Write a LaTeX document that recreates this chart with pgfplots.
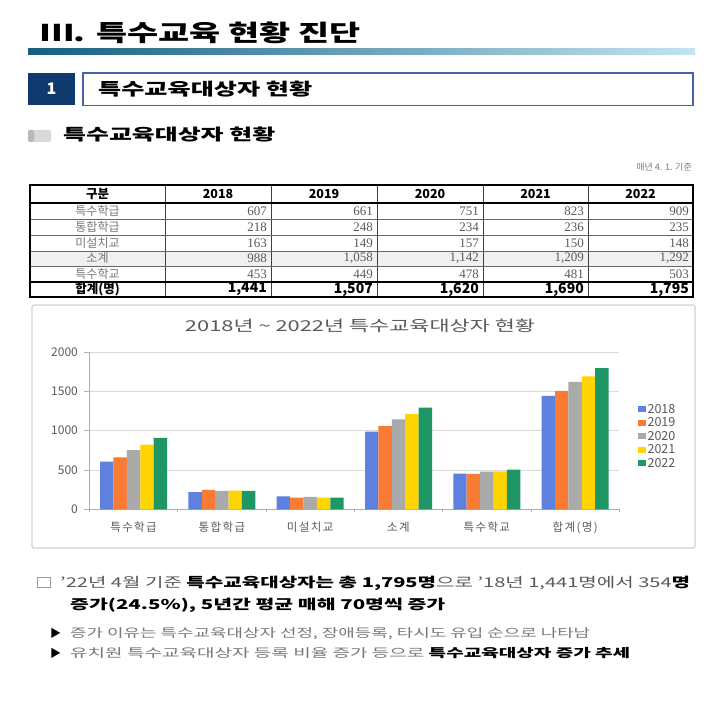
\documentclass[border=0pt]{standalone}
\usepackage{graphicx}
\usepackage{pgfplots}
\pgfplotsset{compat=1.18}
\usepackage{fontspec}
\setmainfont{Noto Sans CJK KR}
\newfontfamily\serif{Liberation Serif}
\newfontfamily\krwide[LetterSpace=12]{Noto Sans CJK KR}
\definecolor{cA}{RGB}{94,128,222}
\definecolor{cB}{RGB}{250,124,52}
\definecolor{cC}{RGB}{170,170,170}
\definecolor{cD}{RGB}{255,212,0}
\definecolor{cE}{RGB}{30,150,102}
\definecolor{navy}{RGB}{14,58,110}
\definecolor{boxblue}{RGB}{70,100,165}
\definecolor{txtgray}{RGB}{90,90,90}
\definecolor{lgray}{RGB}{120,120,120}
\newcommand\fs[1]{\fontsize{#1}{#1}\selectfont}
\newcommand\fw[2]{\resizebox{#1pt}{\height}{#2}}
\begin{document}
\begin{tikzpicture}[x=1pt,y=1pt]
\useasboundingbox (0,0) rectangle (710,710);
\fill[white] (0,0) rectangle (710,710);
% ---- title
\node[anchor=base west, inner sep=0] at (40,668) {\fw{320}{\fs{23}\bfseries Ⅲ. 특수교육 현황 진단}};
\shade[left color={rgb,255:red,20;green,95;blue,125}, middle color={rgb,255:red,70;green,150;blue,180}, right color={rgb,255:red,195;green,228;blue,242}] (28,655) rectangle (695,661);
% ---- section box
\fill[navy] (28,605) rectangle (75,637);
\node[text=white, inner sep=0] at (51.5,621) {\fs{16}\bfseries 1};
\draw[boxblue, line width=1.2pt] (83,604.5) rectangle (693,637);
\node[anchor=base west, inner sep=0] at (98,614) {\fw{214}{\fs{17}\bfseries 특수교육대상자 현황}};
% ---- heading
\fill[gray!30, rounded corners=2pt] (28,568) rectangle (51,580);
\fill[gray!55, rounded corners=1.5pt] (28,568) rectangle (34,580);
\node[anchor=base west, inner sep=0] at (63,569) {\fw{212}{\fs{16}\bfseries 특수교육대상자 현황}};
\node[anchor=base east, inner sep=0, text=lgray] at (692,539) {\fs{9}매년 4. 1. 기준};
% ---- table
\fill[gray!12] (30,444) rectangle (693,459);
\foreach \xx in {165,271,377,483,588} \draw[black!75, line width=0.8pt] (\xx,413) -- (\xx,525);
\foreach \yy in {491,475,459,444} \draw[black!60, line width=0.7pt] (30,\yy) -- (693,\yy);
\draw[black, line width=1.5pt] (30,507) -- (693,507);
\draw[black, line width=1.5pt] (30,428) -- (693,428);
\draw[black, line width=1.6pt] (30,413) rectangle (693,525);
\node[inner sep=0] at (97.5,516) {\fs{12.5}\bfseries 구분};
\foreach \xx/\yr in {218/2018,324/2019,430/2020,535.5/2021,640.5/2022}
  \node[inner sep=0] at (\xx,516) {\fs{12.5}\bfseries \yr};
\foreach \yy/\lab/\a/\b/\c/\d/\e in {
  499/특수학급/607/661/751/823/909,
  483/통합학급/218/248/234/236/235,
  467/미설치교/163/149/157/150/148,
  451.5/소계/988/{1,058}/{1,142}/{1,209}/{1,292},
  436/특수학교/453/449/478/481/503}{
  \node[inner sep=0, text=lgray] at (97.5,\yy) {\fs{12}\lab};
  \node[inner sep=0, anchor=east, text=txtgray] at (267,\yy) {\serif\fs{13}\a};
  \node[inner sep=0, anchor=east, text=txtgray] at (373,\yy) {\serif\fs{13}\b};
  \node[inner sep=0, anchor=east, text=txtgray] at (479,\yy) {\serif\fs{13}\c};
  \node[inner sep=0, anchor=east, text=txtgray] at (584,\yy) {\serif\fs{13}\d};
  \node[inner sep=0, anchor=east, text=txtgray] at (689,\yy) {\serif\fs{13}\e};
}
\node[inner sep=0] at (97.5,420.5) {\fs{12.5}\bfseries 합계(명)};
\foreach \xx/\v in {267/{1,441},373/{1,507},479/{1,620},584/{1,690},689/{1,795}}
  \node[inner sep=0, anchor=east] at (\xx,420.5) {\fs{14}\bfseries \v};
% ---- chart frame
\draw[gray!35, line width=1.2pt, rounded corners=2pt] (32,162) rectangle (695,405);
\node[inner sep=0, text=txtgray] at (360,384) {\fw{350}{\fs{15}2018년 \textasciitilde\ 2022년 특수교육대상자 현황}};
\begin{axis}[
  at={(89.4pt,200.7pt)}, anchor=south west,
  scale only axis, width=529.9pt, height=157.3pt,
  xmin=-0.5, xmax=5.5, ymin=0, ymax=2000,
  ybar=0pt, bar width=13.4pt,
  xtick={0,...,5},
  xticklabels={특수학급,통합학급,미설치교,소계,특수학교,합계(명)},
  major x tick style={draw=none},
  minor xtick={-0.5,0.5,...,5.5},
  minor x tick style={draw=gray!60, line width=0.6pt},
  ytick={0,500,...,2000},
  y tick style={draw=gray!60, line width=0.6pt},
  ymajorgrids, grid style={draw=gray!28, line width=0.8pt},
  axis x line*=bottom, axis y line*=left,
  axis line style={draw=gray!65, line width=0.8pt, -},
  tick align=outside,
  major tick length=5pt, minor tick length=3pt,
  /pgf/number format/assume math mode=true,
  /pgf/number format/set thousands separator={},
  yticklabel style={font=\fs{12}, text=txtgray, xshift=-3pt},
  xticklabel style={font=\krwide\fs{11.5}, text=txtgray, yshift=-4pt},
  legend style={at={(1.03,0.463)}, anchor=west, draw=none, fill=none,
    font=\fs{12.5}, text=txtgray, row sep=0.5pt,
    nodes={inner sep=1.2pt}},
  legend image code/.code={\fill[#1, draw=none] (0pt,-2.8pt) rectangle (8pt,3.2pt);},
  clip=false,
]
\addplot[fill=cA, draw=none] coordinates {(0,607) (1,218) (2,163) (3,988) (4,453) (5,1441)};
\addplot[fill=cB, draw=none] coordinates {(0,661) (1,248) (2,149) (3,1058) (4,449) (5,1507)};
\addplot[fill=cC, draw=none] coordinates {(0,751) (1,234) (2,157) (3,1142) (4,478) (5,1620)};
\addplot[fill=cD, draw=none] coordinates {(0,823) (1,236) (2,150) (3,1209) (4,481) (5,1690)};
\addplot[fill=cE, draw=none] coordinates {(0,909) (1,235) (2,148) (3,1292) (4,503) (5,1795)};
\legend{2018,2019,2020,2021,2022}
\end{axis}
% ---- bullet text
\draw[gray!80, line width=0.9pt] (37,123) rectangle (50,133);
\node[anchor=base west, inner sep=0] at (60,122.5) {\fw{630}{\fs{13.5}\color{txtgray}’22년 4월 기준 \color{black}\bfseries 특수교육대상자는 총 1,795명\mdseries\color{txtgray}으로 ’18년 1,441명에서 354\color{black}\bfseries 명}};
\node[anchor=base west, inner sep=0] at (70,100) {\fw{375}{\fs{13.5}\bfseries 증가(24.5\%), 5년간 평균 매해 70명씩 증가}};
\node[anchor=base west, inner sep=0] at (50,72.5) {\fs{11}▶};
\node[anchor=base west, inner sep=0] at (70,72.5) {\fw{520}{\fs{12}\color{lgray}증가 이유는 특수교육대상자 선정, 장애등록, 타시도 유입 순으로 나타남}};
\node[anchor=base west, inner sep=0] at (50,52.5) {\fs{11}▶};
\node[anchor=base west, inner sep=0] at (70,52.5) {\fw{560}{\fs{12}\color{lgray}유치원 특수교육대상자 등록 비율 증가 등으로 \color{black}\bfseries 특수교육대상자 증가 추세}};
\end{tikzpicture}
\end{document}
